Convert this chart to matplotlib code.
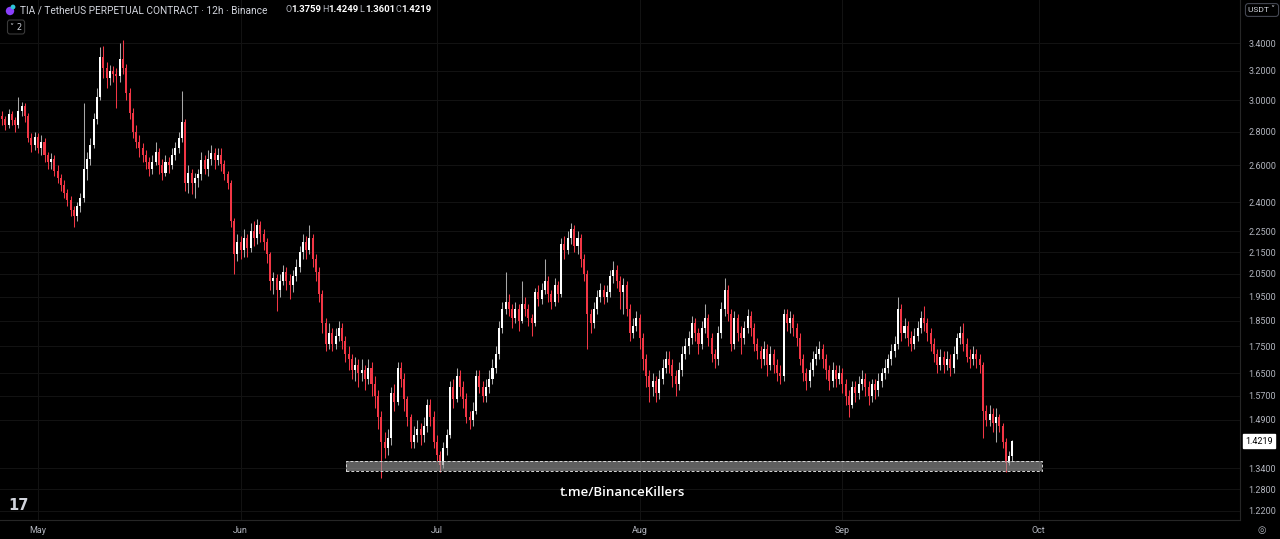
import matplotlib
matplotlib.use('Agg')
import matplotlib.pyplot as plt
import matplotlib.dates as mdates
import matplotlib.patches as mpatches
from matplotlib.transforms import blended_transform_factory, IdentityTransform
from matplotlib.ticker import FixedLocator, NullLocator
import pandas as pd

# ---------------- data ----------------
first_candle = '2025-04-25 12:00'
candle_freq = '12h'
first_open = 2.90

closes = [
    2.88, 2.84, 2.91, 2.87, 2.84, 2.93, 2.96, 2.90, 2.76, 2.72,
    2.77, 2.70, 2.74, 2.66, 2.62, 2.64, 2.57, 2.53, 2.49, 2.45,
    2.41, 2.36, 2.33, 2.38, 2.42, 2.58, 2.64, 2.72, 2.88, 3.02,
    3.30, 3.22, 3.15, 3.20, 3.18, 3.16, 3.28, 3.22, 3.05, 2.92,
    2.80, 2.74, 2.70, 2.66, 2.62, 2.58, 2.62, 2.68, 2.60, 2.56,
    2.62, 2.60, 2.66, 2.70, 2.76, 2.86, 2.50, 2.56, 2.50, 2.53,
    2.55, 2.63, 2.58, 2.64, 2.67, 2.63, 2.66, 2.61, 2.55, 2.50,
    2.30, 2.14, 2.20, 2.16, 2.22, 2.17, 2.25, 2.22, 2.28, 2.24,
    2.20, 2.14, 2.02, 2.03, 1.98, 2.02, 2.06, 2.02, 2.00, 2.04,
    2.08, 2.15, 2.20, 2.16, 2.22, 2.12, 2.06, 1.96, 1.84, 1.76,
    1.80, 1.76, 1.79, 1.82, 1.77, 1.72, 1.70, 1.66, 1.68, 1.65,
    1.66, 1.63, 1.67, 1.61, 1.57, 1.50, 1.42, 1.40, 1.43, 1.58,
    1.55, 1.67, 1.63, 1.56, 1.50, 1.42, 1.44, 1.46, 1.44, 1.47,
    1.54, 1.50, 1.42, 1.38, 1.35, 1.40, 1.44, 1.60, 1.56, 1.64,
    1.60, 1.56, 1.50, 1.49, 1.52, 1.64, 1.60, 1.57, 1.60, 1.63,
    1.67, 1.72, 1.82, 1.90, 1.93, 1.90, 1.86, 1.90, 1.85, 1.92,
    1.90, 1.86, 1.84, 1.97, 1.94, 1.98, 2.02, 1.96, 1.93, 2.00,
    1.96, 2.19, 2.16, 2.22, 2.26, 2.18, 2.22, 2.12, 2.05, 1.88,
    1.84, 1.90, 1.95, 1.98, 1.95, 1.97, 2.04, 2.07, 2.02, 1.97,
    2.00, 1.90, 1.80, 1.83, 1.86, 1.78, 1.70, 1.64, 1.60, 1.62,
    1.58, 1.63, 1.67, 1.70, 1.68, 1.64, 1.61, 1.66, 1.72, 1.75,
    1.78, 1.84, 1.80, 1.76, 1.82, 1.86, 1.78, 1.72, 1.70, 1.80,
    1.90, 1.98, 1.88, 1.76, 1.86, 1.80, 1.78, 1.82, 1.87, 1.82,
    1.76, 1.73, 1.70, 1.74, 1.68, 1.72, 1.68, 1.65, 1.64, 1.88,
    1.84, 1.86, 1.82, 1.78, 1.70, 1.65, 1.62, 1.66, 1.70, 1.72,
    1.74, 1.70, 1.66, 1.62, 1.66, 1.63, 1.65, 1.61, 1.57, 1.54,
    1.60, 1.58, 1.61, 1.63, 1.60, 1.57, 1.61, 1.59, 1.62, 1.65,
    1.67, 1.70, 1.73, 1.76, 1.90, 1.80, 1.83, 1.78, 1.76, 1.79,
    1.82, 1.86, 1.84, 1.80, 1.76, 1.72, 1.68, 1.71, 1.68, 1.70,
    1.67, 1.72, 1.78, 1.80, 1.76, 1.71, 1.70, 1.72, 1.70, 1.68,
    1.52, 1.49, 1.51, 1.48, 1.50, 1.47, 1.42, 1.355, 1.3759, 1.4219,
]

highs = [
    2.93, 2.90, 2.94, 2.93, 2.89, 3.02, 2.99, 2.98, 2.92, 2.79,
    2.80, 2.79, 2.78, 2.76, 2.68, 2.67, 2.66, 2.60, 2.55, 2.52,
    2.47, 2.43, 2.38, 2.40, 2.45, 2.98, 2.68, 2.76, 2.92, 3.08,
    3.37, 3.38, 3.26, 3.24, 3.23, 3.22, 3.40, 3.42, 3.25, 3.08,
    2.95, 2.84, 2.78, 2.73, 2.69, 2.65, 2.66, 2.74, 2.70, 2.64,
    2.66, 2.65, 2.70, 2.74, 2.80, 3.06, 2.88, 2.60, 2.58, 2.56,
    2.58, 2.68, 2.66, 2.69, 2.72, 2.70, 2.70, 2.70, 2.63, 2.57,
    2.52, 2.32, 2.24, 2.23, 2.26, 2.24, 2.29, 2.30, 2.31, 2.30,
    2.26, 2.22, 2.15, 2.06, 2.05, 2.05, 2.09, 2.08, 2.05, 2.07,
    2.12, 2.18, 2.24, 2.23, 2.28, 2.24, 2.14, 2.08, 1.98, 1.86,
    1.84, 1.82, 1.82, 1.85, 1.84, 1.79, 1.75, 1.72, 1.71, 1.70,
    1.70, 1.68, 1.70, 1.69, 1.64, 1.59, 1.52, 1.45, 1.46, 1.60,
    1.61, 1.69, 1.69, 1.65, 1.57, 1.51, 1.47, 1.49, 1.48, 1.50,
    1.56, 1.56, 1.52, 1.44, 1.39, 1.42, 1.46, 1.62, 1.63, 1.67,
    1.66, 1.62, 1.58, 1.52, 1.55, 1.66, 1.66, 1.62, 1.63, 1.66,
    1.70, 1.75, 1.85, 1.93, 2.06, 1.96, 1.92, 1.93, 1.92, 2.02,
    1.95, 1.92, 1.88, 1.99, 2.00, 2.01, 2.12, 2.04, 1.98, 2.03,
    2.02, 2.22, 2.23, 2.25, 2.29, 2.28, 2.25, 2.24, 2.14, 2.07,
    1.90, 1.93, 1.98, 2.01, 2.00, 2.00, 2.07, 2.11, 2.09, 2.04,
    2.03, 2.02, 1.92, 1.86, 1.89, 1.88, 1.80, 1.72, 1.66, 1.65,
    1.64, 1.66, 1.70, 1.73, 1.73, 1.70, 1.66, 1.69, 1.75, 1.78,
    1.81, 1.87, 1.86, 1.82, 1.85, 1.92, 1.88, 1.80, 1.74, 1.83,
    1.93, 2.03, 2.00, 1.90, 1.89, 1.88, 1.83, 1.85, 1.90, 1.89,
    1.84, 1.78, 1.75, 1.77, 1.76, 1.75, 1.74, 1.70, 1.68, 1.90,
    1.90, 1.89, 1.88, 1.84, 1.80, 1.72, 1.67, 1.69, 1.73, 1.75,
    1.77, 1.76, 1.72, 1.68, 1.69, 1.68, 1.68, 1.67, 1.63, 1.59,
    1.62, 1.62, 1.64, 1.66, 1.65, 1.62, 1.63, 1.63, 1.65, 1.67,
    1.70, 1.72, 1.76, 1.79, 1.95, 1.92, 1.86, 1.85, 1.81, 1.82,
    1.85, 1.89, 1.91, 1.86, 1.82, 1.78, 1.74, 1.74, 1.73, 1.73,
    1.72, 1.75, 1.80, 1.83, 1.84, 1.78, 1.74, 1.75, 1.74, 1.72,
    1.69, 1.54, 1.54, 1.53, 1.53, 1.51, 1.48, 1.43, 1.39, 1.4249,
]

lows = [
    2.84, 2.81, 2.82, 2.84, 2.80, 2.82, 2.90, 2.86, 2.74, 2.68,
    2.69, 2.67, 2.66, 2.62, 2.58, 2.58, 2.54, 2.50, 2.46, 2.42,
    2.38, 2.33, 2.27, 2.30, 2.35, 2.40, 2.52, 2.60, 2.70, 2.85,
    3.00, 3.15, 3.08, 3.10, 3.12, 2.95, 3.12, 3.18, 3.00, 2.88,
    2.76, 2.70, 2.65, 2.62, 2.58, 2.54, 2.55, 2.60, 2.55, 2.52,
    2.54, 2.56, 2.58, 2.63, 2.67, 2.74, 2.46, 2.45, 2.44, 2.42,
    2.48, 2.52, 2.55, 2.54, 2.60, 2.58, 2.60, 2.57, 2.52, 2.47,
    2.27, 2.05, 2.11, 2.12, 2.13, 2.13, 2.15, 2.18, 2.19, 2.20,
    2.16, 2.10, 1.98, 1.96, 1.89, 1.95, 2.00, 1.98, 1.94, 1.97,
    2.02, 2.06, 2.12, 2.12, 2.14, 2.08, 2.02, 1.93, 1.80, 1.73,
    1.74, 1.73, 1.74, 1.77, 1.74, 1.69, 1.66, 1.63, 1.62, 1.60,
    1.62, 1.59, 1.61, 1.57, 1.53, 1.46, 1.31, 1.37, 1.38, 1.41,
    1.52, 1.54, 1.60, 1.52, 1.47, 1.40, 1.40, 1.42, 1.41, 1.42,
    1.45, 1.47, 1.40, 1.36, 1.33, 1.34, 1.38, 1.43, 1.53, 1.55,
    1.57, 1.53, 1.48, 1.46, 1.47, 1.51, 1.58, 1.55, 1.55, 1.58,
    1.61, 1.65, 1.70, 1.80, 1.88, 1.87, 1.82, 1.84, 1.81, 1.84,
    1.87, 1.83, 1.79, 1.83, 1.91, 1.92, 1.96, 1.93, 1.90, 1.91,
    1.93, 1.95, 2.12, 2.14, 2.19, 2.15, 2.14, 2.08, 2.02, 1.74,
    1.80, 1.82, 1.88, 1.93, 1.92, 1.93, 1.95, 2.01, 1.99, 1.90,
    1.88, 1.87, 1.77, 1.78, 1.81, 1.74, 1.66, 1.60, 1.55, 1.57,
    1.55, 1.56, 1.61, 1.65, 1.65, 1.60, 1.57, 1.59, 1.64, 1.70,
    1.72, 1.76, 1.77, 1.72, 1.74, 1.80, 1.75, 1.69, 1.67, 1.68,
    1.78, 1.87, 1.85, 1.73, 1.74, 1.77, 1.72, 1.76, 1.80, 1.79,
    1.73, 1.70, 1.67, 1.68, 1.64, 1.66, 1.65, 1.62, 1.61, 1.62,
    1.81, 1.80, 1.79, 1.75, 1.68, 1.62, 1.59, 1.60, 1.64, 1.68,
    1.70, 1.67, 1.63, 1.59, 1.60, 1.60, 1.61, 1.58, 1.54, 1.50,
    1.53, 1.55, 1.56, 1.59, 1.57, 1.54, 1.55, 1.56, 1.57, 1.60,
    1.63, 1.65, 1.68, 1.71, 1.74, 1.77, 1.78, 1.75, 1.73, 1.74,
    1.77, 1.80, 1.81, 1.77, 1.73, 1.69, 1.65, 1.66, 1.65, 1.66,
    1.64, 1.65, 1.70, 1.76, 1.73, 1.69, 1.67, 1.68, 1.67, 1.65,
    1.43, 1.47, 1.47, 1.45, 1.42, 1.45, 1.40, 1.33, 1.35, 1.3601,
]

last_ohlc = [('O', '1.3759'), ('H', '1.4249'), ('L', '1.3601'), ('C', '1.4219')]
last_price = 1.4219

zone_start = '2025-06-17 02:00'
zone_end = '2025-10-01 12:00'
zone_low = 1.332
zone_high = 1.361

price_ticks = [3.4, 3.2, 3.0, 2.8, 2.6, 2.4, 2.25, 2.15, 2.05, 1.95, 1.85,
               1.75, 1.65, 1.57, 1.49, 1.34, 1.28, 1.22]
month_ticks = ['2025-05-01', '2025-06-01', '2025-07-01', '2025-08-01',
               '2025-09-01', '2025-10-01']
month_labels = ['May', 'Jun', 'Jul', 'Aug', 'Sep', 'Oct']

title_text = 'TIA / TetherUS PERPETUAL CONTRACT \u00b7 12h \u00b7 Binance'
watermark = 't.me/BinanceKillers'

# ---------------- style ----------------
BG = '#000000'
UP = '#ffffff'
UP_WICK = '#a8a8a8'
DOWN = '#f23645'
TXT = '#b2b5be'
GRID = '#131313'
FONTS = ['Roboto', 'DejaVu Sans']

W, H = 1280, 539
fig = plt.figure(figsize=(W / 100, H / 100), dpi=100, facecolor=BG)
ax = fig.add_axes([0, 19 / H, 1240 / W, 520 / H], facecolor=BG)

dates = pd.date_range(first_candle, periods=len(closes), freq=candle_freq)
xs = mdates.date2num(dates.to_pydatetime())
opens = [first_open] + closes[:-1]

body_w = 0.31  # days
for x, o, h, l, c in zip(xs, opens, highs, lows, closes):
    up = c >= o
    col = UP if up else DOWN
    wcol = UP_WICK if up else DOWN
    ax.vlines(x, l, h, color=wcol, linewidth=0.75, zorder=2)
    bot = min(o, c)
    hgt = max(abs(c - o), bot * 0.0025)
    ax.bar(x, hgt, bottom=bot, width=body_w, color=col, edgecolor='none',
           zorder=3, align='center')

# support zone
zs = mdates.date2num(pd.Timestamp(zone_start).to_pydatetime())
ze = mdates.date2num(pd.Timestamp(zone_end).to_pydatetime())
ax.add_patch(mpatches.Rectangle((zs, zone_low), ze - zs, zone_high - zone_low,
                                facecolor='#9a9a9a', alpha=0.62, edgecolor='none',
                                zorder=4))
ax.add_patch(mpatches.Rectangle((zs, zone_low), ze - zs, zone_high - zone_low,
                                facecolor='none', edgecolor='#d8d8d8',
                                linestyle=(0, (3, 2)), linewidth=0.7, zorder=5))

# axes scales
ax.set_yscale('log')
ax.set_ylim(1.196, 3.736)
x0 = xs[0]
ax.set_xlim(x0 - 0.306, x0 + 189.3)

ax.yaxis.set_major_locator(FixedLocator(price_ticks))
ax.yaxis.set_minor_locator(NullLocator())
ax.set_yticklabels(['%.4f' % p for p in price_ticks])
ax.yaxis.tick_right()
ax.tick_params(axis='y', length=0, pad=6, labelsize=6.5, labelcolor=TXT)

mt = mdates.date2num(pd.to_datetime(month_ticks).to_pydatetime())
ax.xaxis.set_major_locator(FixedLocator(mt))
ax.xaxis.set_minor_locator(NullLocator())
ax.set_xticklabels(month_labels)
ax.tick_params(axis='x', length=0, pad=4, labelsize=6.5, labelcolor=TXT)
for lab in ax.get_xticklabels() + ax.get_yticklabels():
    lab.set_fontfamily('Roboto')

ax.grid(True, color=GRID, linewidth=0.7, zorder=0)
ax.set_axisbelow(True)
for s in ['top', 'left']:
    ax.spines[s].set_visible(False)
ax.spines['right'].set_color('#262626')
ax.spines['bottom'].set_color('#262626')
ax.spines['right'].set_linewidth(0.8)
ax.spines['bottom'].set_linewidth(0.8)

# last price label
tr = blended_transform_factory(ax.transAxes, ax.transData)
ax.text(1.0045, last_price, '%.4f' % last_price, transform=tr, ha='left',
        va='center', fontsize=6.5, color='#000000', family='Roboto',
        bbox=dict(boxstyle='square,pad=0.25', facecolor='#ffffff',
                  edgecolor='#ffffff'), zorder=10, clip_on=False)

# watermark
ax.text(0.5016, (H - 492 - 19) / 520, watermark, transform=ax.transAxes,
        ha='center', va='center', fontsize=9.5, color='#ffffff',
        family='Open Sans', fontweight='semibold', zorder=6)


def ftext(px, py, s, **kw):
    fig.text(px / W, 1 - py / H, s, **kw)


# header icon (shapes in pixel coordinates)
fig.add_artist(mpatches.Circle((10, H - 11), 4.2, transform=IdentityTransform(),
                               facecolor='#8a3ffc', edgecolor='none'))
fig.add_artist(mpatches.Circle((13, H - 7), 2.4, transform=IdentityTransform(),
                               facecolor='#2ec4d6', edgecolor='none'))

ftext(20, 10, title_text, color='#d1d4dc', fontsize=7.3, family=FONTS,
      ha='left', va='center')
ohlc_x = [285, 322, 359, 395]
for (k, v), xp in zip(last_ohlc, ohlc_x):
    ftext(xp, 10, k, color=TXT, fontsize=6.5, family='Roboto', ha='left',
          va='center')
    ftext(xp + 6, 10, v, color='#ffffff', fontsize=6.8, family='Roboto',
          fontweight='bold', ha='left', va='center')
ftext(10, 27, '\u02c5 2', color='#d1d4dc', fontsize=6, family=['DejaVu Sans'],
      ha='left', va='center',
      bbox=dict(boxstyle='round,pad=0.3', facecolor=BG, edgecolor='#3a3a3a',
                linewidth=0.8))

# USDT box
ftext(1262, 10, 'USDT \u02c5', color='#d1d4dc', fontsize=6, family=FONTS,
      ha='center', va='center',
      bbox=dict(boxstyle='round,pad=0.35', facecolor=BG, edgecolor='#434651',
                linewidth=0.8))

# logo + settings icon
ftext(18, 506, '17', color='#d1d4dc', fontsize=10.5, fontweight='bold',
      ha='center', va='center')
ftext(1262, 530, '\u25ce', color=TXT, fontsize=7, ha='center', va='center')

fig.savefig('out.png', dpi=100, facecolor=BG)
